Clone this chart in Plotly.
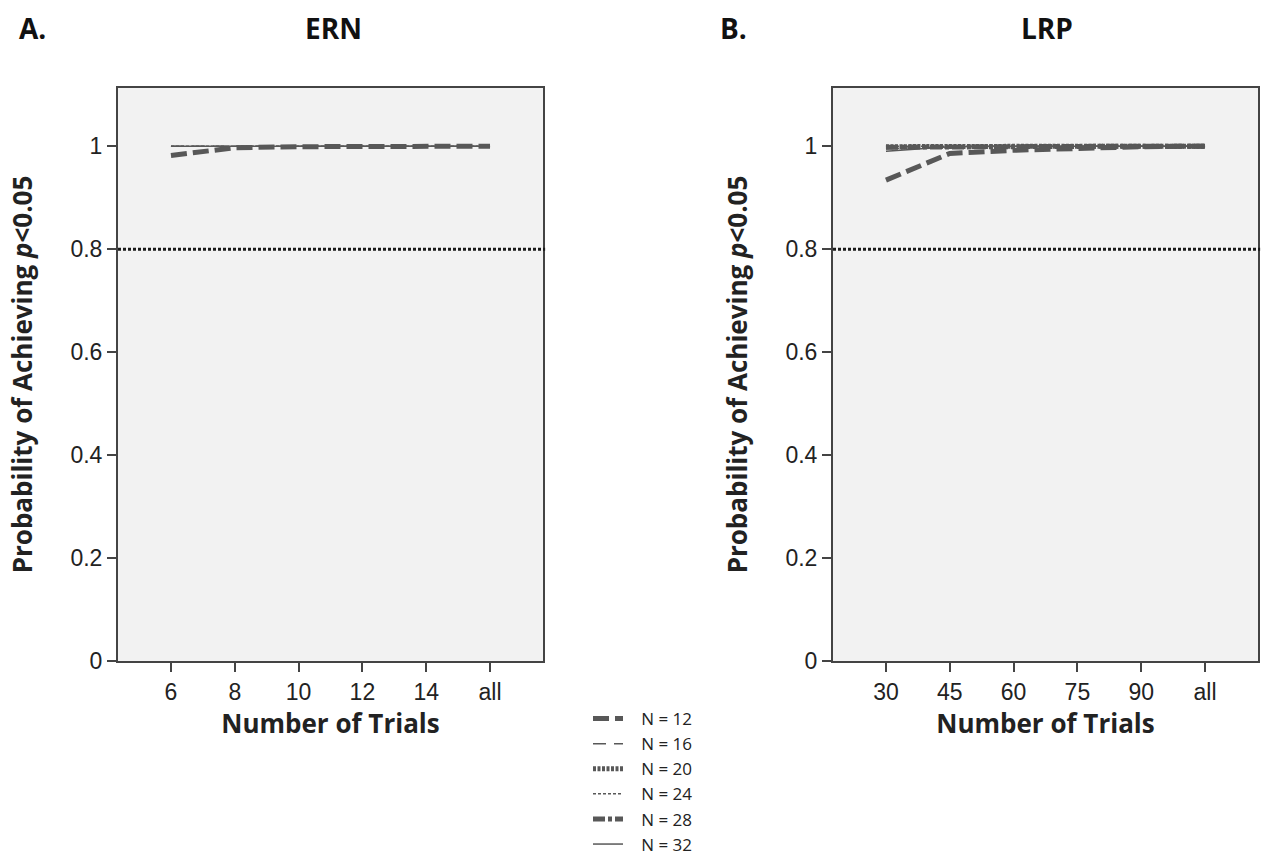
import plotly.graph_objects as go

# ---- data ----
ern_trials = ["6", "8", "10", "12", "14", "all"]
lrp_trials = ["30", "45", "60", "75", "90", "all"]
series_names = ["N = 12", "N = 16", "N = 20", "N = 24", "N = 28", "N = 32"]

ern_values = {
    "N = 12": [0.982, 0.997, 0.999, 1.0, 1.0, 1.0],
    "N = 16": [1.0, 1.0, 1.0, 1.0, 1.0, 1.0],
    "N = 20": [None, None, None, None, None, None],
    "N = 24": [1.0, 1.0, 1.0, 1.0, 1.0, 1.0],
    "N = 28": [None, None, None, None, None, None],
    "N = 32": [1.0, 1.0, 1.0, 1.0, 1.0, 1.0],
}
lrp_values = {
    "N = 12": [0.934, 0.986, 0.992, 0.996, 0.999, 1.0],
    "N = 16": [0.995, 0.999, 1.0, 1.0, 1.0, 1.0],
    "N = 20": [0.999, 1.0, 1.0, 1.0, 1.0, 1.0],
    "N = 24": [1.0, 1.0, 1.0, 1.0, 1.0, 1.0],
    "N = 28": [0.998, 0.999, 0.999, 1.0, 1.0, 1.0],
    "N = 32": [0.99, 0.999, 1.0, 1.0, 1.0, 1.0],
}
power_threshold = 0.8
y_ticks = [0, 0.2, 0.4, 0.6, 0.8, 1]
y_ticktext = ["0", "0.2", "0.4", "0.6", "0.8", "1"]

# ---- styles ----
COL = "#585858"
styles = {
    "N = 12": dict(width=5, dash="16px,6px"),
    "N = 16": dict(width=1.5, dash="13px,8px"),
    "N = 20": dict(width=5, dash="3px,1.5px"),
    "N = 24": dict(width=1.5, dash="3px,2px"),
    "N = 28": dict(width=5, dash="12px,3px,4px,3px"),
    "N = 32": dict(width=1.5, dash="solid"),
}
draw_order = ["N = 20", "N = 28", "N = 24", "N = 16", "N = 32", "N = 12"]

W, H = 1266, 859
def px_x(a, b):
    return [a / W, b / W]
def px_y(top, bottom):
    return [1 - bottom / H, 1 - top / H]

fig = go.Figure()
for name in draw_order:
    st = styles[name]
    fig.add_trace(go.Scatter(x=ern_trials, y=ern_values[name], mode="lines",
                             name="\u00a0\u00a0\u00a0" + name,
                             line=dict(color=COL, width=st["width"], dash=st["dash"]),
                             xaxis="x", yaxis="y", legendgroup=name, showlegend=True,
                             legendrank=series_names.index(name)))
for name in draw_order:
    st = styles[name]
    fig.add_trace(go.Scatter(x=lrp_trials, y=lrp_values[name], mode="lines", name=name,
                             line=dict(color=COL, width=st["width"], dash=st["dash"]),
                             xaxis="x2", yaxis="y2", legendgroup=name, showlegend=False))

for xr, yr in [("x", "y"), ("x2", "y2")]:
    fig.add_shape(type="line", xref=xr + " domain", yref=yr, x0=0, x1=1.005,
                  y0=power_threshold, y1=power_threshold,
                  line=dict(color="#1a1a1a", width=3, dash="3px,2px"))

tickfont = dict(family="Liberation Sans", size=23, color="#222")
titlefont = dict(family="Open Sans", size=26, color="#222")
common_x = dict(type="category", range=[-0.83, 5.83], showline=True, linecolor="#444",
                linewidth=2, mirror=True, ticks="outside", ticklen=9, tickcolor="#444",
                tickwidth=2, tickfont=tickfont, showgrid=False, zeroline=False,
                automargin=False,
                title=dict(text="<b>Number of Trials</b>", font=titlefont, standoff=0))
common_y = dict(range=[0, 1.113], tickvals=y_ticks, ticktext=y_ticktext, showline=True,
                linecolor="#444", linewidth=2, mirror=True, ticks="outside", ticklen=9,
                tickcolor="#444", tickwidth=2, tickfont=tickfont, showgrid=False,
                zeroline=False, automargin=False,
                title=dict(text="<b>Probability of Achieving <i>p</i><0.05</b>",
                           font=titlefont, standoff=30))

fig.update_layout(
    width=W, height=H, margin=dict(l=0, r=0, t=0, b=0, autoexpand=False),
    paper_bgcolor="white", plot_bgcolor="#f2f2f2",
    xaxis=dict(domain=px_x(118, 543), anchor="y", **common_x),
    yaxis=dict(domain=px_y(88, 661), anchor="x", **common_y),
    xaxis2=dict(domain=px_x(833, 1258), anchor="y2", **common_x),
    yaxis2=dict(domain=px_y(88, 661), anchor="x2", **common_y),
    legend=dict(x=588 / W, y=1 - 701 / H, xanchor="left", yanchor="top",
                font=dict(family="Open Sans", size=17, color="#222"),
                bgcolor="rgba(0,0,0,0)", tracegroupgap=0, itemwidth=30),
    showlegend=True,
)

ann_font = dict(family="Open Sans", size=28, color="#111")
for text, xp in [("<b>A.</b>", 32), ("<b>ERN</b>", 333), ("<b>B.</b>", 733), ("<b>LRP</b>", 1047)]:
    fig.add_annotation(text=text, x=xp / W, y=1 - 28 / H, xref="paper",
                       yref="paper", showarrow=False, font=ann_font,
                       xanchor="center", yanchor="middle")

fig.write_html("out.html", config={"displayModeBar": False},
               post_script="document.body.style.margin='0';document.body.style.overflow='hidden';")
